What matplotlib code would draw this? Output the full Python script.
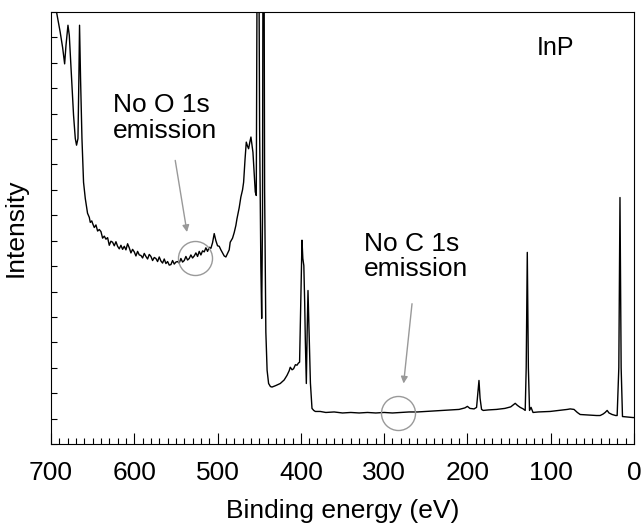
import matplotlib.pyplot as plt
from matplotlib.ticker import MultipleLocator

plt.rcParams['font.family'] = ['Liberation Sans', 'DejaVu Sans']

# XPS survey of InP (binding energy in eV, intensity in arb. units)
binding_energy = [
    700, 696, 693, 689, 686, 684.5, 683.6, 682, 679.6, 678, 675.6, 672.9, 670.8, 669.3,
    667.6, 666.5, 665.7, 664.5, 662.8, 660.9, 658.8, 656.1, 654, 652.8, 651,
    650, 648, 646, 644, 642, 640, 638, 636, 634, 632, 630, 628, 626, 624, 622, 620,
    618, 616, 614, 612, 610, 608, 606, 604, 602, 600, 598, 596, 594, 592, 590, 588,
    586, 584, 582, 580, 578, 576, 574, 572, 570, 568, 566, 564, 562, 560, 558, 556,
    554, 552, 550, 548, 546, 544, 542, 540, 538, 536, 534, 532, 530, 528, 526, 524,
    522, 520, 518, 516, 514, 512, 510, 508, 506, 504, 502, 500, 498, 496, 494, 492,
    490, 488, 486, 484.8, 482, 480, 478, 476.7, 474, 472, 470, 468.7, 467, 465.5, 464,
    462.7, 461, 459.9, 458.5, 457.5, 455.5, 454.7, 453.5, 452.6, 451.7, 449.5, 448,
    447.0, 446, 444.9, 443.5, 442, 440.5, 438.7, 436.5, 434.6, 430, 424.7, 420, 416.6,
    414, 412.7, 410.5, 408.7, 406.5, 404.6, 403, 401.5, 400.0, 398.6, 397.6, 396.4,
    395.4, 394.6, 393.4, 392.4, 391.4, 389.9, 388.5, 386.6, 384.5, 382.6, 376.7, 370,
    360, 350, 340, 330, 320, 310, 300, 290, 280, 270, 260, 250, 240, 230, 220, 210,
    203, 200, 197, 192, 189, 187.5, 186.1, 184.8, 183, 181, 175, 165, 155, 148, 145,
    142.6, 140, 136.6, 133, 130.6, 129.4, 128.1, 126.8, 125.4, 123.6, 121.2, 115,
    100.6, 90, 80, 76.6, 72, 68, 64.6, 55, 45, 40.6, 37, 34.6, 32.2, 30, 26.2, 22,
    20.2, 18.2, 16.8, 15.4, 13.8, 8, 1.2, 0,
]
intensity = [
    92, 88, 84.7, 81.1, 78.0, 76.0, 74.8, 78.4, 82.4, 80.4, 73.2, 64.7, 60.1, 58.8,
    60.1, 72, 82.4, 72, 60.1, 51.5, 48.3, 45.4, 44.6, 43.6, 43.9,
    43.4, 42.6, 43.1, 41.9, 42.2, 41.8, 40.5, 40.9, 40.3, 40.6, 39.1, 39.9, 39.7, 39.0, 39.8, 38.9,
    38.4, 39.1, 38.3, 38.9, 38.2, 39.4, 38.6, 37.6, 38.3, 37.8, 37.0, 37.9, 37.2, 37.1, 36.6, 37.5,
    36.9, 36.4, 37.3, 36.9, 36.1, 36.7, 36.5, 35.9, 36.8, 36.0, 35.6, 36.4, 35.5, 35.9, 35.2, 35.3,
    36.1, 35.4, 35.8, 35.9, 35.6, 36.5, 35.8, 36.1, 36.9, 36.2, 36.5, 37.2, 36.6, 37.0, 37.6, 36.9,
    37.9, 37.2, 38.0, 37.8, 38.6, 37.9, 38.7, 38.5, 39.6, 41.4, 40.0, 39.0, 38.9, 38.2, 37.6, 37.0,
    36.8, 37.5, 38.2, 39.7, 40.5, 41.6, 43.0, 44.3, 46.5, 48.6, 50.0, 51.5, 56.0, 59.4, 58.6,
    58.1, 59.6, 60.4, 58.6, 57.4, 52.0, 49.6, 48.9, 90, 150, 62, 35,
    24.7, 45, 150, 50, 22, 14.5, 11.9, 11.3, 11.2, 11.5, 11.9, 12.6, 13.5,
    14.4, 15.1, 14.6, 14.8, 15.6, 15.5, 15.9, 16.1, 28.2, 40.1, 36.5, 35.1,
    28, 20.4, 11.9, 22, 30.2, 20.4, 12, 7.0, 6.6, 6.4, 6.4, 6.2,
    6.3, 6.1, 6.2, 6.1, 6.2, 6.1, 6.2, 6.1, 6.2, 6.3, 6.3, 6.4, 6.5, 6.6, 6.7, 6.8,
    7.1, 7.4, 7.0, 6.9, 7.2, 10, 12.5, 9, 6.8, 6.6, 6.7, 6.8, 7.0, 7.3, 7.7,
    8.0, 7.6, 7.2, 6.9, 6.6, 15, 37.7, 15, 6.6, 7.2, 6.2, 6.3,
    6.4, 6.6, 6.8, 6.9, 6.8, 6.2, 5.8, 5.7, 5.6, 5.6, 5.9, 6.2, 6.6, 6.1, 5.8, 5.6,
    5.6, 15, 48.5, 15, 5.4, 5.3, 5.2, 5.2,
]

fig = plt.figure(figsize=(6.42, 5.23), dpi=100)
ax = fig.add_axes([0.0794, 0.1511, 0.9081, 0.8259])

ax.plot(binding_energy, intensity, color='black', lw=1.0)
ax.set_xlim(700, 0)
ax.set_ylim(0, 85)

# circles marking where O 1s / C 1s would be
ax.plot([526.7], [36.6], 'o', ms=24.5, mfc='none', mec='#999999', mew=1.0)
ax.plot([283.6], [6.1], 'o', ms=24.5, mfc='none', mec='#999999', mew=1.0)

arrow = dict(arrowstyle='-|>', color='#999999', lw=1.0, mutation_scale=10, shrinkA=0, shrinkB=0)
ax.annotate('', xy=(536.7, 41.7), xytext=(550.8, 55.8), arrowprops=arrow)
ax.annotate('', xy=(276.6, 11.9), xytext=(266.5, 27.6), arrowprops=arrow)

ax.text(625.2, 69.0, 'No O 1s\nemission', fontsize=19, ha='left', va='top', linespacing=1.1)
ax.text(323.8, 41.8, 'No C 1s\nemission', fontsize=19, ha='left', va='top', linespacing=1.1)
ax.text(117.3, 80.2, 'InP', fontsize=18, ha='left', va='top')

ax.xaxis.set_major_locator(MultipleLocator(100))
ax.xaxis.set_minor_locator(MultipleLocator(10))
ax.yaxis.set_major_locator(MultipleLocator(5))
ax.tick_params(axis='x', which='major', direction='in', length=8, width=0.8,
               labelsize=19, pad=12, top=False)
ax.tick_params(axis='x', which='minor', direction='in', length=4, width=0.8, top=False)
ax.tick_params(axis='y', which='major', direction='in', length=4, width=0.8,
               labelleft=False, right=False)

for s in ax.spines.values():
    s.set_linewidth(0.8)

ax.set_xlabel('Binding energy (eV)', fontsize=19, labelpad=10)
ax.set_ylabel('Intensity', fontsize=19, labelpad=17)

fig.savefig('out.png', dpi=100)
